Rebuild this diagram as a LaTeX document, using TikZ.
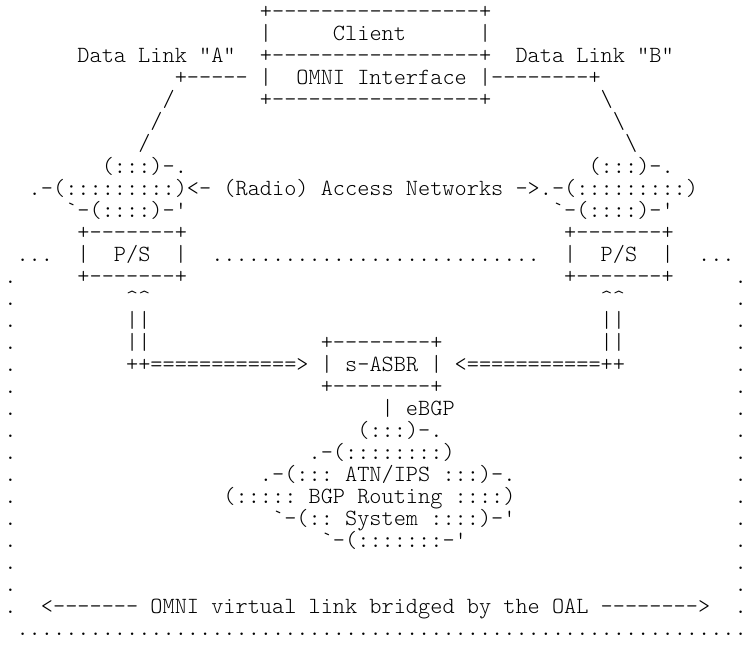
\documentclass[tikz,border=0pt]{standalone}
\usepackage{fontspec}
\setmonofont{lmmonolt10-regular.otf}

% size the typewriter font so that one character is one column wide
\newlength\colw
\settowidth\colw{\ttfamily\fontsize{10pt}{10pt}\selectfont 0}
\pgfmathsetmacro\artsize{10*12.17/\colw}

\begin{document}
\begin{tikzpicture}
    [x=12.17pt,y=-22pt,
     art/.style={anchor=base west,inner sep=0pt,outer sep=0pt,
                 font=\ttfamily\fontsize{\artsize pt}{22pt}\selectfont}]
    \useasboundingbox (-4.4pt,-3pt) rectangle (741.6pt,-658pt);
    % client with its OMNI interface
    \node[art] (cltop) at (21,1) {+-----------------+};
    \node[art] (clleft) at (21,2) {|};
    \node[art] (client) at (27,2) {Client};
    \node[art] (clright) at (39,2) {|};
    \node[art] (linka) at (6,3) {Data Link "A"};
    \node[art] (clmid) at (21,3) {+-----------------+};
    \node[art] (linkb) at (42,3) {Data Link "B"};
    \node[art] (omnil) at (14,4) {+----- |};
    \node[art] (omni) at (24,4) {OMNI Interface};
    \node[art] (omnir) at (39,4) {|--------+};
    \node[art] (clbot) at (21,5) {+-----------------+};
    \foreach \i in {1,2,3}{
        \node[art] (sla\i) at (14-\i,4+\i) {/};
        \node[art] (slb\i) at (48+\i,4+\i) {\textbackslash};
    }
    % access networks
    \node[art] (anla) at (8,8) {(:::)-.};
    \node[art] (anra) at (48,8) {(:::)-.};
    \node[art] (anet) at (2,9) {.-(:::::::::)<- (Radio) Access Networks ->.-(:::::::::)};
    \node[art] (anlc) at (5,10) {`-(::::)-'};
    \node[art] (anrc) at (45,10) {`-(::::)-'};
    % proxy/servers
    \node[art] (psla) at (6,11) {+-------+};
    \node[art] (psra) at (46,11) {+-------+};
    \node[art] (dotsl) at (1,12) {...};
    \node[art] (psll) at (6,12) {|};
    \node[art] (psl) at (9,12) {P/S};
    \node[art] (pslr) at (14,12) {|};
    \node[art] (dotsm) at (17,12) {...........................};
    \node[art] (psrl) at (46,12) {|};
    \node[art] (psr) at (49,12) {P/S};
    \node[art] (psrr) at (54,12) {|};
    \node[art] (dotsr) at (57,12) {...};
    \node[art] (pslb) at (6,13) {+-------+};
    \node[art] (psrb) at (46,13) {+-------+};
    \node[art] (upl) at (10,14) {\textasciicircum\textasciicircum};
    \node[art] (upr) at (49,14) {\textasciicircum\textasciicircum};
    \foreach \r in {15,16}{
        \node[art] (barl\r) at (10,\r) {||};
        \node[art] (barr\r) at (49,\r) {||};
    }
    % s-ASBR
    \node[art] (asbrtop) at (26,16) {+--------+};
    \node[art] (tunl) at (10,17) {++============>};
    \node[art] (asbrl) at (26,17) {|};
    \node[art] (asbr) at (28,17) {s-ASBR};
    \node[art] (asbrr) at (35,17) {|};
    \node[art] (tunr) at (37,17) {<===========++};
    \node[art] (asbrbot) at (26,18) {+--------+};
    \node[art] (ebgp) at (31,19) {| eBGP};
    % ATN/IPS routing system
    \node[art] (atna) at (29,20) {(:::)-.};
    \node[art] (atnb) at (25,21) {.-(::::::::)};
    \node[art] (atnc) at (21,22) {.-(::: ATN/IPS :::)-.};
    \node[art] (atnd) at (18,23) {(::::: BGP Routing ::::)};
    \node[art] (atne) at (22,24) {`-(:: System ::::)-'};
    \node[art] (atnf) at (26,25) {`-(:::::::-'};
    % OMNI link border
    \foreach \r in {13,...,28}{
        \node[art] (edgel\r) at (0,\r) {.};
        \node[art] (edger\r) at (60,\r) {.};
    }
    \node[art] (vlink) at (3,28) {<------- OMNI virtual link bridged by the OAL -------->};
    \node[art] (bottom) at (1,29) {............................................................};
\end{tikzpicture}
\end{document}
